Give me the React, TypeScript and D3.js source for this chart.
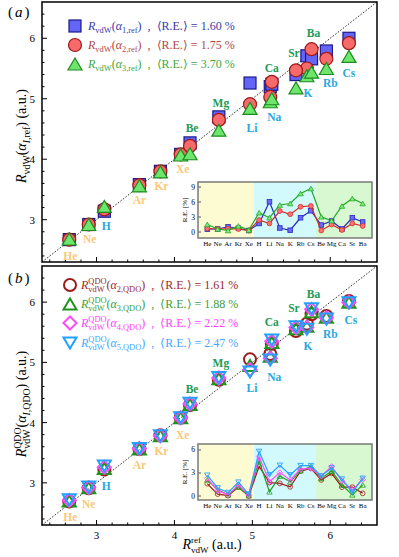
import React from "react";
import * as d3 from "d3";

const W = 399;
const H = 557;
const serif = "'Liberation Serif', 'Times New Roman', serif";

// elements, in the order of the inset x axis
const elements = ["He", "Ne", "Ar", "Kr", "Xe", "H", "Li", "Na", "K", "Rb", "Cs", "Be", "Mg", "Ca", "Sr", "Ba"];
const families = ["noble", "noble", "noble", "noble", "noble", "alkali", "alkali", "alkali", "alkali", "alkali", "alkali", "earth", "earth", "earth", "earth", "earth"];

// reference vdW radii (x axis, a.u.)
const refRadius = [2.65, 2.9, 3.55, 3.82, 4.08, 3.1, 4.97, 5.23, 5.7, 5.95, 6.24, 4.2, 4.57, 5.25, 5.56, 5.76];

// panel (a): R_vdW(alpha_n,ref)
const rAlpha1 = [2.67, 2.92, 3.58, 3.8, 4.08, 3.14, 5.26, 5.2, 5.71, 5.79, 6.0, 4.27, 4.7, 5.24, 5.4, 5.66];
const rAlpha2 = [2.67, 2.92, 3.57, 3.8, 4.08, 3.17, 4.91, 5.03, 5.5, 5.66, 5.92, 4.22, 4.65, 5.28, 5.47, 5.82];
const rAlpha3 = [2.68, 2.92, 3.56, 3.79, 4.07, 3.22, 4.84, 4.95, 5.38, 5.5, 5.7, 4.09, 4.48, 5.0, 5.18, 5.44];

// panel (b): R_vdW^QDO(alpha_n,QDO)
const rQdo2 = [2.69, 2.91, 3.56, 3.79, 4.08, 3.22, 5.05, 5.14, 5.64, 5.77, 6.02, 4.29, 4.71, 5.31, 5.52, 5.8];
const rQdo3 = [2.7, 2.92, 3.56, 3.78, 4.08, 3.24, 4.95, 5.1, 5.6, 5.75, 6.0, 4.3, 4.73, 5.33, 5.56, 5.84];
const rQdo4 = [2.71, 2.92, 3.57, 3.78, 4.08, 3.26, 4.88, 5.07, 5.58, 5.74, 6.0, 4.31, 4.74, 5.35, 5.58, 5.88];
const rQdo5 = [2.72, 2.93, 3.57, 3.78, 4.08, 3.28, 4.84, 5.04, 5.55, 5.72, 5.99, 4.32, 4.75, 5.37, 5.59, 5.89];

// relative errors in the insets (%)
const reA1 = [0.55, 0.6, 1.05, 0.75, 0.3, 1.7, 6.05, 0.8, 0.35, 2.85, 4.25, 1.4, 2.2, 0.6, 2.85, 2.0];
const reA2 = [0.7, 0.6, 0.65, 0.6, 0.3, 2.4, 1.7, 4.2, 3.55, 5.05, 5.2, 0.3, 1.5, 0.4, 1.7, 1.2];
const reA3 = [1.5, 0.6, 0.3, 1.2, 0.4, 3.85, 2.85, 5.4, 5.7, 7.7, 8.7, 3.05, 2.25, 5.2, 6.7, 5.7];
const reB2 = [1.6, 0.25, 0.05, 1.15, 0.0, 3.85, 1.75, 1.65, 1.2, 3.25, 3.6, 2.1, 2.95, 1.15, 1.15, 0.35];
const reB3 = [2.1, 0.8, 0.15, 1.2, 0.05, 4.6, 0.55, 2.6, 1.85, 3.3, 3.85, 2.3, 3.25, 1.45, 0.15, 1.45];
const reB4 = [2.3, 0.7, 0.15, 1.45, 0.15, 5.15, 1.85, 3.05, 2.1, 3.5, 3.6, 2.6, 3.85, 1.95, 0.8, 2.15];
const reB5 = [2.7, 1.05, 0.45, 1.8, 0.25, 5.8, 2.75, 4.0, 2.75, 3.95, 3.95, 2.6, 3.65, 2.2, 0.5, 2.3];

// mean relative errors in the legends
const meanA = ["1.60", "1.75", "3.70"];
const meanB = ["1.61", "1.88", "2.22", "2.47"];

const axisTicks = [3, 4, 5, 6];
const insetTicksA = [0, 3, 6, 9];
const insetTicksB = [0, 3, 6];

// label offsets (px) from the point on the diagonal
const labelOffA = [[1, 15], [1, 13], [0, 14], [1, 16], [2, 15], [2, 12], [2, 27], [4, 32], [1, 37], [4, 42], [0, 49], [2, -19], [2, -22], [0, -16], [-2, -12], [2, -20]];
const labelOffB = [[1, 13], [0, 15], [0, 15], [1, 18], [2, 17], [2, 9], [2, 24], [4, 28], [1, 26], [4, 29], [2, 32], [2, -22], [2, -25], [0, -25], [-2, -21], [2, -23]];

const familyColor = { noble: "#fbc878", alkali: "#29a8e0", earth: "#229a55" };

const x = d3.scaleLinear().domain([2.3, 6.6]).range([42, 377]);
const yA = d3.scaleLinear().domain([2.3, 6.6]).range([262, 2]);
const yB = d3.scaleLinear().domain([2.3, 6.6]).range([525, 266]);

const triUp = (cx, cy, w, h) => `M${cx},${cy - h / 2}L${cx + w / 2},${cy + h / 2}L${cx - w / 2},${cy + h / 2}Z`;
const triDown = (cx, cy, w, h) => `M${cx},${cy + h / 2}L${cx + w / 2},${cy - h / 2}L${cx - w / 2},${cy - h / 2}Z`;
const diamond = (cx, cy, r) => `M${cx},${cy - r}L${cx + r},${cy}L${cx},${cy + r}L${cx - r},${cy}Z`;

const Frame = ({ y, showX }) => {
  const [y0, y1] = y.range();
  const minor = d3.range(2.4, 6.59, 0.2).filter(v => Math.abs(v - Math.round(v)) > 0.01);
  return (
    <g>
      {minor.map((v, i) => (
        <g key={"m" + i}>
          <line x1={x(v)} x2={x(v)} y1={y0} y2={y0 - 2.5} stroke="#000" />
          <line x1={x.range()[0]} x2={x.range()[0] + 2.5} y1={y(v)} y2={y(v)} stroke="#000" />
        </g>
      ))}
      {axisTicks.map(v => (
        <g key={v}>
          <line x1={x(v)} x2={x(v)} y1={y0} y2={y0 - 5} stroke="#000" />
          <line x1={x.range()[0]} x2={x.range()[0] + 5} y1={y(v)} y2={y(v)} stroke="#000" />
          <text x={35} y={y(v) + 4} textAnchor="end" fontSize={11}>{v}</text>
          {showX && <text x={x(v)} y={y0 + 14} textAnchor="middle" fontSize={11}>{v}</text>}
        </g>
      ))}
      <line x1={x(2.3)} y1={y(2.3)} x2={x(6.6)} y2={y(6.6)} stroke="#333" strokeDasharray="1.6,1.6" strokeWidth={1} />
      <rect x={42} y={y1} width={335} height={y0 - y1} fill="none" stroke="#000" strokeWidth={1.5} />
    </g>
  );
};

const Labels = ({ y, offs }) => (
  <g fontWeight="bold" fontSize={11.5} textAnchor="middle" dominantBaseline="central">
    {elements.map((e, i) => (
      <text key={e} x={x(refRadius[i]) + offs[i][0]} y={y(refRadius[i]) + offs[i][1]} fill={familyColor[families[i]]}>{e}</text>
    ))}
  </g>
);

const Inset = ({ top, bottom, domain, ticks, series }) => {
  const ix = d3.scalePoint().domain(elements).range([198, 372]).padding(0.9);
  const iy = d3.scaleLinear().domain(domain).range([bottom, top]);
  const mid = (a, b) => (ix(a) + ix(b)) / 2;
  const bands = [
    [198, mid("Xe", "H"), "#fdfbd2"],
    [mid("Xe", "H"), mid("Cs", "Be"), "#d2fafd"],
    [mid("Cs", "Be"), 372, "#d8f8d2"],
  ];
  const line = d3.line().x((d, i) => ix(elements[i])).y(d => iy(d));
  return (
    <g>
      {bands.map(([a, b, c]) => <rect key={c} x={a} y={top} width={b - a} height={bottom - top} fill={c} />)}
      {series.map(s => (
        <g key={s.key}>
          <path d={line(s.values)} fill="none" stroke={s.color} strokeWidth={1.2} />
          {s.values.map((v, i) => {
            const cx = ix(elements[i]);
            const cy = iy(v);
            if (s.shape === "square") return <rect key={i} x={cx - 2.3} y={cy - 2.3} width={4.6} height={4.6} fill={s.fill} stroke={s.color} strokeWidth={0.8} />;
            if (s.shape === "circle") return <circle key={i} cx={cx} cy={cy} r={2.4} fill={s.fill} stroke={s.color} strokeWidth={0.8} />;
            if (s.shape === "up") return <path key={i} d={triUp(cx, cy, 5.4, 4.6)} fill={s.fill} stroke={s.color} strokeWidth={0.8} />;
            if (s.shape === "diamond") return <path key={i} d={diamond(cx, cy, 2.8)} fill={s.fill} stroke={s.color} strokeWidth={0.9} />;
            return <path key={i} d={triDown(cx, cy, 5.4, 4.6)} fill={s.fill} stroke={s.color} strokeWidth={0.9} />;
          })}
        </g>
      ))}
      {ticks.map(t => (
        <g key={t}>
          <line x1={198} x2={201} y1={iy(t)} y2={iy(t)} stroke="#555" />
          <text x={195} y={iy(t) + 2.5} textAnchor="end" fontSize={7.5}>{t}</text>
        </g>
      ))}
      {elements.map(e => (
        <text key={e} x={ix(e)} y={bottom + 7.5} textAnchor="middle" fontSize={7}>{e}</text>
      ))}
      <text transform={`translate(187,${(top + bottom) / 2}) rotate(-90)`} textAnchor="middle" fontSize={7}>R.E. [%]</text>
      <rect x={198} y={top} width={174} height={bottom - top} fill="none" stroke="#7a7a7a" strokeWidth={1.5} />
    </g>
  );
};

const sub = { fontSize: 8.4 };

export default function App() {
  const legendA = [
    { key: "1", color: "#3a3aa8", val: meanA[0] },
    { key: "2", color: "#b04848", val: meanA[1] },
    { key: "3", color: "#40a840", val: meanA[2] },
  ];
  const legendB = [
    { key: "2", color: "#9b2a2a", val: meanB[0] },
    { key: "3", color: "#3aa03a", val: meanB[1] },
    { key: "4", color: "#ff44ff", val: meanB[2] },
    { key: "5", color: "#44a6ff", val: meanB[3] },
  ];
  const legYA = [26, 45, 64];
  const legYB = [285, 304, 323, 343];

  return (
    <svg width={W} height={H} style={{ position: "absolute", left: 0, top: 0, background: "#fff" }} fontFamily={serif}>
      {/* panel (a) */}
      <Frame y={yA} showX={false} />
      <Inset
        top={182}
        bottom={238}
        domain={[-1.2, 10]}
        ticks={insetTicksA}
        series={[
          { key: "a1", values: reA1, color: "#2a2ac0", fill: "#6a6af5", shape: "square" },
          { key: "a2", values: reA2, color: "#d03030", fill: "#ff7272", shape: "circle" },
          { key: "a3", values: reA3, color: "#24a824", fill: "#80e880", shape: "up" },
        ]}
      />
      {refRadius.map((r, i) => (
        <rect key={"s" + i} x={x(r) - 6} y={yA(rAlpha1[i]) - 6} width={12} height={12} fill="#6464f5" stroke="#1a1a8c" strokeWidth={1.2} />
      ))}
      {refRadius.map((r, i) => (
        <circle key={"c" + i} cx={x(r)} cy={yA(rAlpha2[i])} r={6.5} fill="#f66a6a" stroke="#a01818" strokeWidth={1.2} />
      ))}
      {refRadius.map((r, i) => (
        <path key={"t" + i} d={triUp(x(r), yA(rAlpha3[i]), 14, 12)} fill="#6ee66e" stroke="#1e8c1e" strokeWidth={1.2} />
      ))}
      <Labels y={yA} offs={labelOffA} />
      <rect x={69} y={legYA[0] - 6} width={12} height={12} fill="#6464f5" stroke="#1a1a8c" strokeWidth={1.2} />
      <circle cx={75} cy={legYA[1]} r={6.5} fill="#f66a6a" stroke="#a01818" strokeWidth={1.2} />
      <path d={triUp(75, legYA[2], 14, 12)} fill="#6ee66e" stroke="#1e8c1e" strokeWidth={1.2} />
      {legendA.map((l, i) => (
        <text key={l.key} x={88} y={legYA[i] + 4} fontSize={12} fill={l.color}>
          <tspan fontStyle="italic">R</tspan>
          <tspan {...sub} dy={3}>vdW</tspan>
          <tspan dy={-3}>(</tspan>
          <tspan fontStyle="italic">α</tspan>
          <tspan {...sub} dy={3}>{l.key},ref</tspan>
          <tspan dy={-3}>){"\u00A0 , \u00A0"}⟨R.E.⟩ = {l.val}{"\u00A0"}%</tspan>
        </text>
      ))}
      <text x={8} y={17} fontSize={15}>(<tspan fontStyle="italic" dx={2}>a</tspan><tspan dx={2}>)</tspan></text>
      <text transform="translate(26,136) rotate(-90)" textAnchor="middle" fontSize={14}>
        <tspan fontStyle="italic">R</tspan>
        <tspan fontSize={9.8} dy={3.5}>vdW</tspan>
        <tspan dy={-3.5}>(</tspan>
        <tspan fontStyle="italic">α</tspan>
        <tspan fontSize={9.8} dy={3.5} fontStyle="italic">I</tspan>
        <tspan fontSize={9.8}>,ref</tspan>
        <tspan dy={-3.5}>) (a.u.)</tspan>
      </text>

      {/* panel (b) */}
      <Frame y={yB} showX={true} />
      <Inset
        top={444}
        bottom={500}
        domain={[-0.52, 6.78]}
        ticks={insetTicksB}
        series={[
          { key: "b2", values: reB2, color: "#a02020", fill: "none", shape: "circle" },
          { key: "b3", values: reB3, color: "#20a020", fill: "none", shape: "up" },
          { key: "b4", values: reB4, color: "#ff50ff", fill: "none", shape: "diamond" },
          { key: "b5", values: reB5, color: "#2aa0ff", fill: "none", shape: "down" },
        ]}
      />
      {refRadius.map((r, i) => (
        <circle key={"bc" + i} cx={x(r)} cy={yB(rQdo2[i])} r={6} fill="none" stroke="#9b1c1c" strokeWidth={2} />
      ))}
      {refRadius.map((r, i) => (
        <path key={"bt" + i} d={triUp(x(r), yB(rQdo3[i]), 13, 11)} fill="none" stroke="#1e961e" strokeWidth={2} />
      ))}
      {refRadius.map((r, i) => (
        <path key={"bd" + i} d={diamond(x(r), yB(rQdo4[i]), 6.5)} fill="none" stroke="#f84cf8" strokeWidth={2} />
      ))}
      {refRadius.map((r, i) => (
        <path key={"bv" + i} d={triDown(x(r), yB(rQdo5[i]), 13, 11)} fill="none" stroke="#22a0ff" strokeWidth={2} />
      ))}
      <Labels y={yB} offs={labelOffB} />
      <circle cx={70} cy={legYB[0]} r={6} fill="none" stroke="#9b1c1c" strokeWidth={2} />
      <path d={triUp(70, legYB[1], 13, 11)} fill="none" stroke="#1e961e" strokeWidth={2} />
      <path d={diamond(70, legYB[2], 6.5)} fill="none" stroke="#f84cf8" strokeWidth={2} />
      <path d={triDown(70, legYB[3], 13, 11)} fill="none" stroke="#22a0ff" strokeWidth={2} />
      {legendB.map((l, i) => (
        <text key={l.key} x={81} y={legYB[i] + 4} fontSize={12} fill={l.color}>
          <tspan fontStyle="italic">R</tspan>
          <tspan {...sub} dy={-5}>QDO</tspan>
          <tspan {...sub} dx={-18.2} dy={8}>vdW</tspan>
          <tspan dx={1.9} dy={-3}>(</tspan>
          <tspan fontStyle="italic">α</tspan>
          <tspan {...sub} dy={3}>{l.key},QDO</tspan>
          <tspan dy={-3}>){"\u00A0 , \u00A0"}⟨R.E.⟩ = {l.val}{"\u00A0"}%</tspan>
        </text>
      ))}
      <text x={8} y={283} fontSize={15}>(<tspan fontStyle="italic" dx={2}>b</tspan><tspan dx={2}>)</tspan></text>
      <text transform="translate(26,404) rotate(-90)" textAnchor="middle" fontSize={14}>
        <tspan fontStyle="italic">R</tspan>
        <tspan fontSize={9.8} dy={-5.5}>QDO</tspan>
        <tspan fontSize={9.8} dx={-21.2} dy={9}>vdW</tspan>
        <tspan dx={2.2} dy={-3.5}>(</tspan>
        <tspan fontStyle="italic">α</tspan>
        <tspan fontSize={9.8} dy={3.5} fontStyle="italic">I</tspan>
        <tspan fontSize={9.8}>,QDO</tspan>
        <tspan dy={-3.5}>) (a.u.)</tspan>
      </text>
      <text x={212} y={549} textAnchor="middle" fontSize={14}>
        <tspan fontStyle="italic">R</tspan>
        <tspan fontSize={9} dy={-6.5}>ref</tspan>
        <tspan fontSize={9} dx={-10} dy={10.5}>vdW</tspan>
        <tspan dy={-4}>{"\u00A0"}(a.u.)</tspan>
      </text>
    </svg>
  );
}
